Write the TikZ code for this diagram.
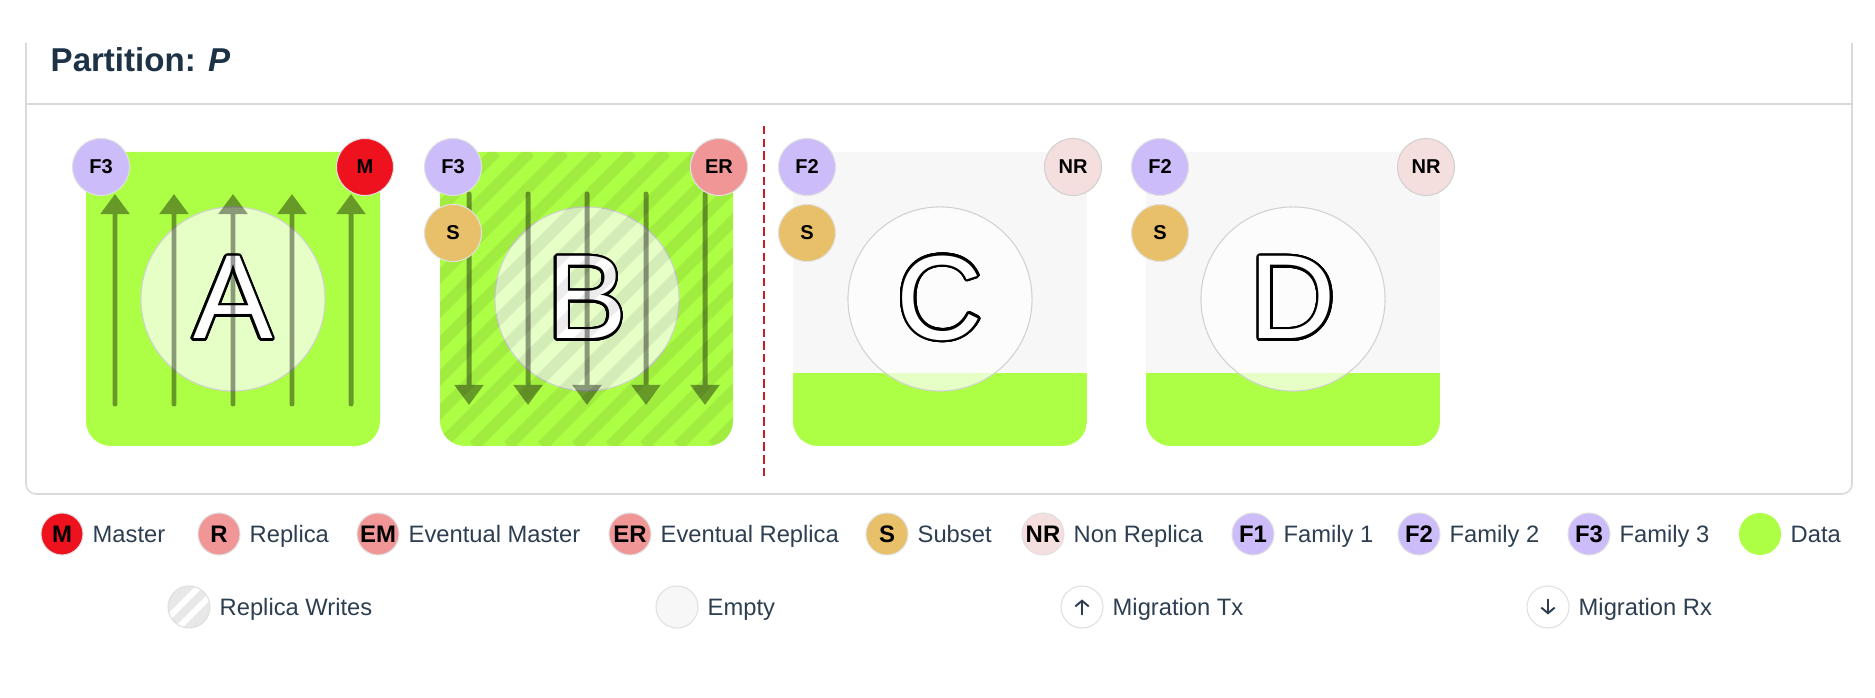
\documentclass[tikz,border=0pt]{standalone}
\usepackage{fontspec}
\setmainfont{Liberation Sans}
\usepackage[copies]{contour}
\usetikzlibrary{arrows.meta}

\definecolor{datagreen}{RGB}{173,255,69}
\definecolor{emptygray}{RGB}{247,247,247}
\definecolor{masterred}{RGB}{238,17,30}
\definecolor{replicapink}{RGB}{240,150,150}
\definecolor{subsetgold}{RGB}{232,192,106}
\definecolor{nonreppink}{RGB}{245,222,222}
\definecolor{familylav}{RGB}{205,188,250}
\definecolor{inkslate}{RGB}{44,62,80}
\definecolor{titleink}{RGB}{30,50,70}
\definecolor{splitred}{RGB}{200,28,40}
\definecolor{cardline}{RGB}{218,218,218}

\contourlength{0.65pt}
\contournumber{32}

\tikzset{
  badge/.style={circle, minimum size=0.57cm, inner sep=0pt, draw=black!12,
    line width=0.3pt, font=\fontsize{5.7}{6}\selectfont\bfseries},
  keybadge/.style={circle, minimum size=0.42cm, inner sep=0pt, draw=black!12,
    line width=0.3pt, font=\fontsize{6.8}{8}\selectfont\bfseries},
  keytext/.style={anchor=base west, inner sep=0pt, text=inkslate,
    font=\fontsize{6.75}{8}\selectfont},
  hub/.style={circle, minimum size=1.84cm, fill=white, fill opacity=0.7,
    draw=black!18, line width=0.3pt},
  bigletter/.style={text=white, inner sep=0pt, font=\fontsize{34}{34}\selectfont},
  migr/.style={line width=1.42pt, line cap=round, -{Triangle[width=8pt, length=5.7pt]}},
}

\begin{document}
\begin{tikzpicture}[x=0.01cm, y=-0.01cm]

  \useasboundingbox (0,0) rectangle (1875,698);

  % card frame and title
  \draw[cardline, line width=0.45pt, rounded corners=0.1cm]
    (26,43) -- (26,494) -- (1852,494) -- (1852,43);
  \draw[cardline, line width=0.45pt] (26,104) -- (1852,104);
  \node[anchor=base west, inner sep=0pt, text=titleink,
    font=\fontsize{9.4}{11}\selectfont\bfseries] (title) at (50,72)
    {Partition: \textit{P}};

  % partition A: master, migrating out
  \fill[datagreen, rounded corners=0.25cm] (86,152) rectangle (380,446);
  \node[hub] (hubA) at (233,299) {};
  \node[bigletter] (letA) at (hubA) {\contour{black}{A}};
  \begin{scope}[transparency group, opacity=0.4]
    \foreach \dx in {-118,-59,0,59,118}
      \draw[migr] (233+\dx,404) -- (233+\dx,194);
  \end{scope}
  \node[badge, fill=familylav] (famA) at (101,167) {F3};
  \node[badge, fill=masterred] (roleA) at (365,167) {M};

  % partition B: eventual replica, replica writes, migrating in
  \fill[datagreen, rounded corners=0.25cm] (440,152) rectangle (733,446);
  \node[hub] (hubB) at (587,299) {};
  \node[bigletter] (letB) at (hubB) {\contour{black}{B}};
  \begin{scope}
    \clip[rounded corners=0.25cm] (440,152) rectangle (733,446);
    \foreach \k in {-9,...,9}
      \draw[black, opacity=0.075, line width=3.3pt] (440+\k*34,446) -- ++(294,-294);
  \end{scope}
  \begin{scope}[transparency group, opacity=0.4]
    \foreach \dx in {-118,-59,0,59,118}
      \draw[migr] (587+\dx,194) -- (587+\dx,405);
  \end{scope}
  \node[badge, fill=familylav] (famB) at (453,167) {F3};
  \node[badge, fill=subsetgold] (subB) at (453,233) {S};
  \node[badge, fill=replicapink] (roleB) at (719,167) {ER};

  % split between the two groups
  \draw[splitred, line width=0.7pt, dash pattern=on 2.4pt off 1.2pt] (764,126) -- (764,480);

  % partitions C and D: non replicas, mostly empty
  \foreach \n/\x in {C/793, D/1146} {
    \begin{scope}
      \clip[rounded corners=0.25cm] (\x,152) rectangle (\x+294,446);
      \fill[emptygray] (\x,152) rectangle (\x+294,446);
      \fill[datagreen] (\x,373) rectangle (\x+294,446);
    \end{scope}
    \node[hub] (hub\n) at (\x+147,299) {};
    \node[bigletter] (let\n) at (hub\n) {\contour{black}{\n}};
    \node[badge, fill=familylav] (fam\n) at (\x+14,167) {F2};
    \node[badge, fill=subsetgold] (sub\n) at (\x+14,233) {S};
    \node[badge, fill=nonreppink, draw=black!18] (role\n) at (\x+280,167) {NR};
  }

  % legend, first row
  \foreach \x/\t/\c/\n in {62/M/masterred/Master, 219/R/replicapink/Replica,
      378/EM/replicapink/Eventual Master, 630/ER/replicapink/Eventual Replica,
      887/S/subsetgold/Subset, 1043/NR/nonreppink/Non Replica,
      1253/F1/familylav/Family 1, 1419/F2/familylav/Family 2,
      1589/F3/familylav/Family 3} {
    \node[keybadge, fill=\c] (key\t) at (\x,534) {\t};
    \node[keytext] at (\x+30,543) {\n};
  }
  \node[keybadge, fill=datagreen, draw=none] (keyData) at (1760,534) {};
  \node[keytext] at (1790,543) {Data};

  % legend, second row
  \node[keybadge, fill=black!9, path picture={
      \foreach \k in {-10,10}
        \draw[white, line width=1.7pt]
          ([xshift=\k*0.01cm]path picture bounding box.south west) --
          ([xshift=\k*0.01cm]path picture bounding box.north east);
    }] (keyWrites) at (189,607) {};
  \node[keytext] at (219,616) {Replica Writes};
  \node[keybadge, fill=emptygray] (keyEmpty) at (677,607) {};
  \node[keytext] at (707,616) {Empty};
  \node[keybadge, fill=white] (keyTx) at (1082,607) {};
  \draw[inkslate, line width=0.55pt, line cap=round,
    -{Straight Barb[length=1.6pt, width=3.8pt]}]
    ([yshift=-0.075cm]keyTx.center) -- ([yshift=0.075cm]keyTx.center);
  \node[keytext] at (1112,616) {Migration Tx};
  \node[keybadge, fill=white] (keyRx) at (1548,607) {};
  \draw[inkslate, line width=0.55pt, line cap=round,
    -{Straight Barb[length=1.6pt, width=3.8pt]}]
    ([yshift=0.075cm]keyRx.center) -- ([yshift=-0.075cm]keyRx.center);
  \node[keytext] at (1578,616) {Migration Rx};

\end{tikzpicture}
\end{document}
